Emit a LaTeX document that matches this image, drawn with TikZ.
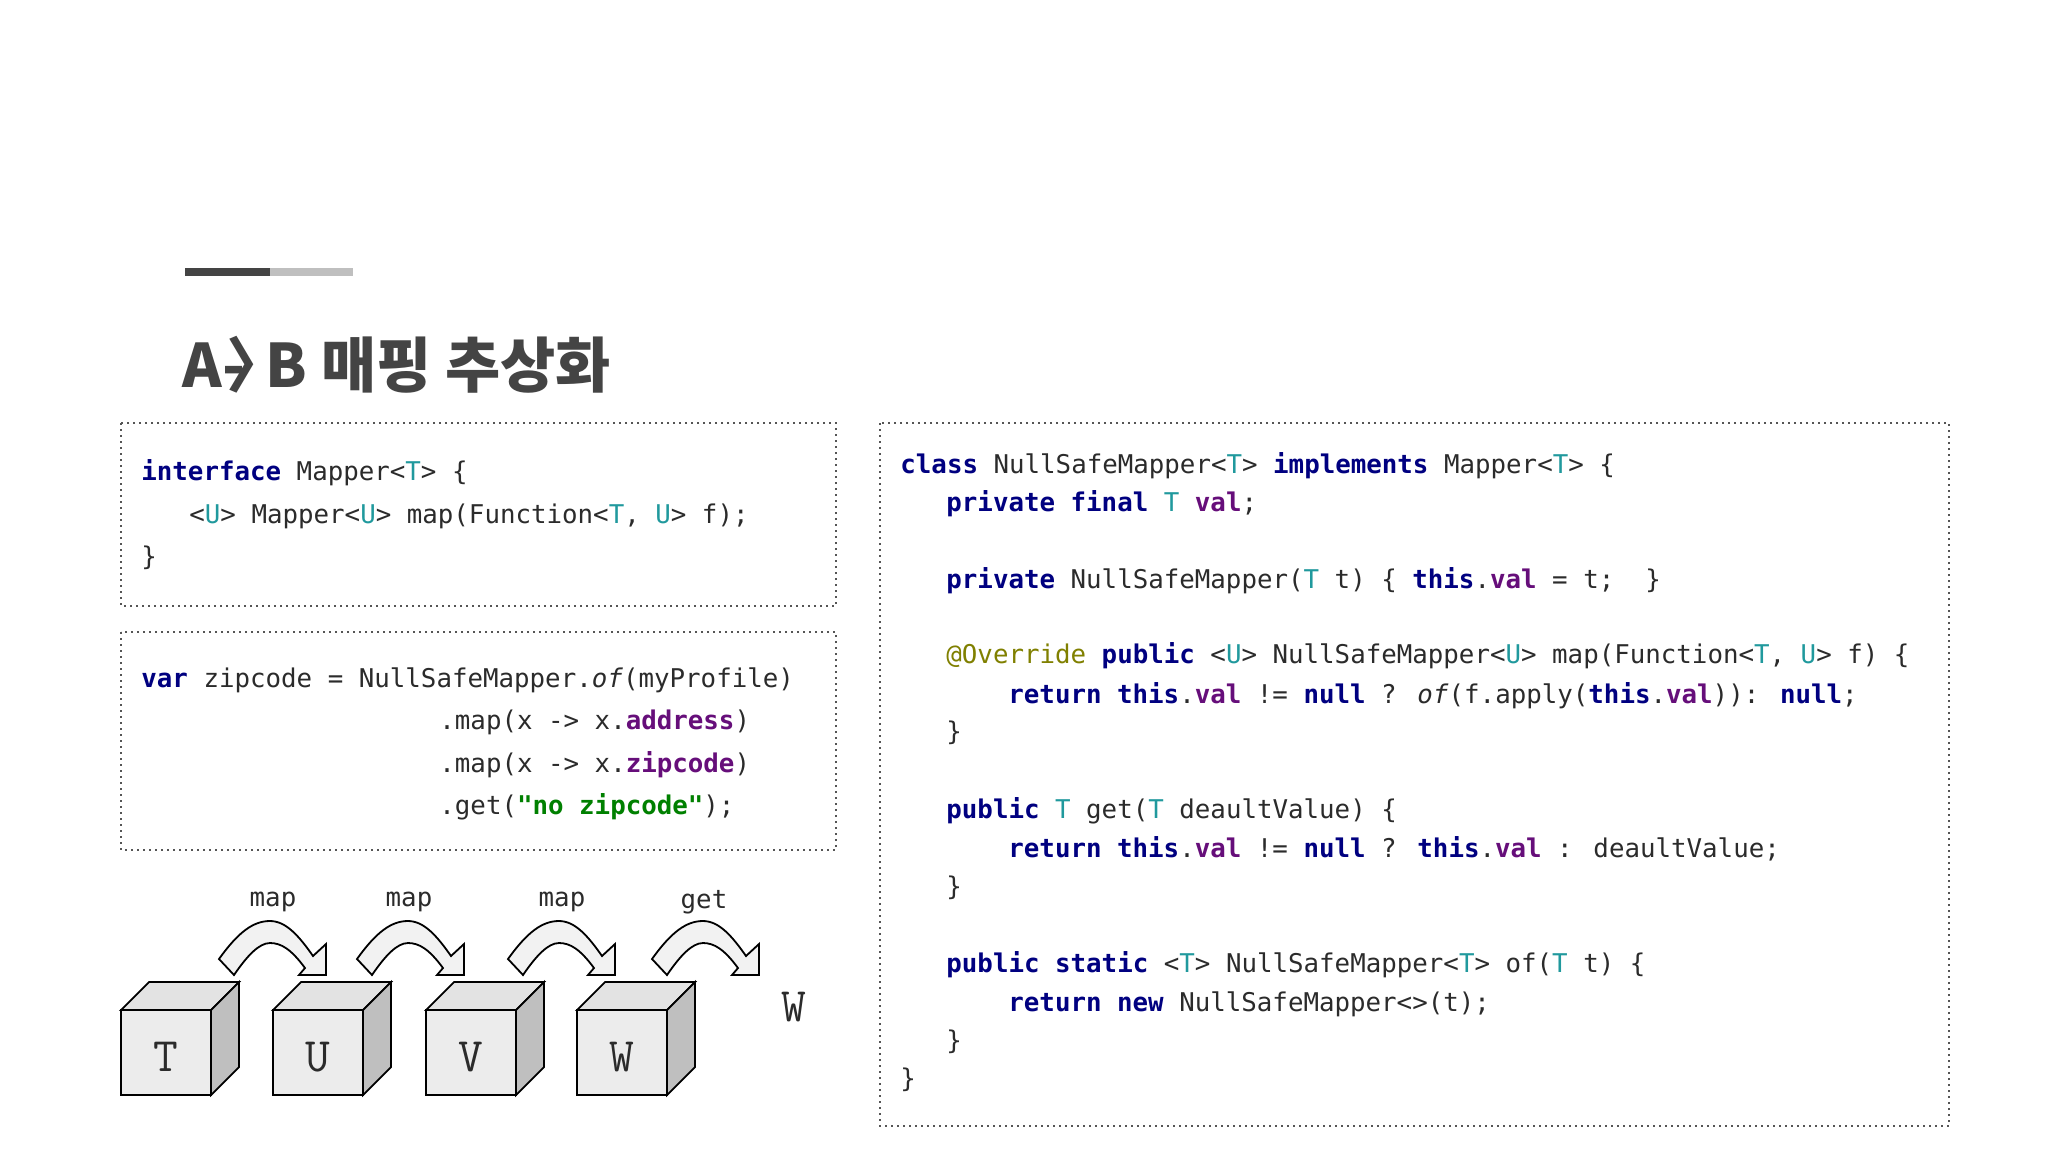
\documentclass[tikz,border=0pt]{standalone}
\usepackage{fontspec}
\usepackage{xcolor}
\newfontfamily\cm{DejaVu Sans Mono}
\newfontfamily\kr{Noto Sans CJK KR}
\definecolor{ink}{HTML}{2B2B2B}
\definecolor{kwc}{HTML}{000080}
\definecolor{tpc}{HTML}{20999D}
\definecolor{fdc}{HTML}{660E7A}
\definecolor{stc}{HTML}{008000}
\definecolor{anc}{HTML}{808000}
\definecolor{titlec}{HTML}{444444}
\newcommand\kw[1]{\textbf{\color{kwc}#1}}
\newcommand\tp[1]{{\color{tpc}#1}}
\newcommand\fd[1]{\textbf{\color{fdc}#1}}
\newcommand\st[1]{\textbf{\color{stc}#1}}
\newcommand\an[1]{{\color{anc}#1}}
\tikzset{
  code/.style={anchor=base west, inner sep=0pt, text=ink, font=\cm\fontsize{12.9}{15}\selectfont},
  dotbox/.style={draw=ink!80, line width=1pt, dotted},
  front/.style={draw=black, line width=0.9pt, fill=gray!15},
  topf/.style={draw=black, line width=0.9pt, fill=gray!22},
  side/.style={draw=black, line width=0.9pt, fill=gray!50},
  barrow/.style={draw=black, line width=0.9pt, fill=gray!10},
  letter/.style={inner sep=0pt, text=ink, font=\ttfamily\fontsize{24}{26}\selectfont},
  lbl/.style={inner sep=0pt, text=ink, font=\cm\fontsize{12.9}{15}\selectfont}
}
\begin{document}
\begin{tikzpicture}[x=0.5pt,y=-0.5pt]
\path[use as bounding box, fill=white] (0,0) rectangle (2048,1152);
% bar
\fill[titlec] (185,268) rectangle (270,276);
\fill[gray!50] (270,268) rectangle (353,276);
% title
\node[anchor=base west, inner sep=0pt, text=titlec, font=\kr\bfseries\fontsize{30}{34}\selectfont] (title) at (182,387) {A-\kern-0.3em〉\kern-0.35emB 매핑 추상화};
% boxes
\draw[dotbox] (121,423) rectangle (836,606);
\draw[dotbox] (121,632) rectangle (836,850);
\draw[dotbox] (880,423) rectangle (1949,1126);
% box1
\node[code] (a1) at (141,480) {\kw{interface} Mapper<\tp{T}> \{};
\node[code] (a2) at (189,523) {<\tp{U}> Mapper<\tp{U}> map(Function<\tp{T}, \tp{U}> f);};
\node[code] (a3) at (141,565) {\}};
% box2
\node[code] (b1) at (141,687) {\kw{var} zipcode = NullSafeMapper.\textit{of}(myProfile)};
\node[code] (b2) at (439,729) {.map(x -> x.\fd{address})};
\node[code] (b3) at (439,772) {.map(x -> x.\fd{zipcode})};
\node[code] (b4) at (439,814) {.get(\st{"no zipcode"});};
% box3
\node[code] (c1) at (900,473) {\kw{class} NullSafeMapper<\tp{T}> \kw{implements} Mapper<\tp{T}> \{};
\node[code] (c2) at (946,511) {\kw{private} \kw{final} \tp{T} \fd{val};};
\node[code] (c3) at (946,588) {\kw{private} NullSafeMapper(\tp{T} t) \{ \kw{this}.\fd{val} = t;~~\}};
\node[code] (c4) at (946,663) {\an{@Override} \kw{public} <\tp{U}> NullSafeMapper<\tp{U}> map(Function<\tp{T}, \tp{U}> f) \{};
\node[code] (c5) at (1008,703) {\kw{return} \kw{this}.\fd{val} != \kw{null} ? \textit{of}(f.apply(\kw{this}.\fd{val})): \kw{null};};
\node[code] (c6) at (946,740) {\}};
\node[code] (c7) at (946,818) {\kw{public} \tp{T} get(\tp{T} deaultValue) \{};
\node[code] (c8) at (1008,857) {\kw{return} \kw{this}.\fd{val} != \kw{null} ? \kw{this}.\fd{val} : deaultValue;};
\node[code] (c9) at (946,895) {\}};
\node[code] (c10) at (946,972) {\kw{public} \kw{static} <\tp{T}> NullSafeMapper<\tp{T}> of(\tp{T} t) \{};
\node[code] (c11) at (1008,1011) {\kw{return} \kw{new} NullSafeMapper<>(t);};
\node[code] (c12) at (946,1049) {\}};
\node[code] (c13) at (900,1087) {\}};
% cubes
\foreach \x/\l/\n in {121/T/cT,273/U/cU,426/V/cV,577/W/cW}{
  \draw[topf] (\x,1010) -- (\x+28,982) -- (\x+118,982) -- (\x+90,1010) -- cycle;
  \draw[side] (\x+90,1010) -- (\x+118,982) -- (\x+118,1067) -- (\x+90,1095) -- cycle;
  \draw[front] (\x,1010) rectangle (\x+90,1095);
  \node[letter] (\n) at (\x+45,1057) {\l};
}
\node[letter] (wout) at (794,1007) {W};
% arrows
\foreach \x in {219,357,508,652}{
  \begin{scope}[shift={(\x,921)}]
  \draw[barrow] (0,38) .. controls (20,10) and (35,0) .. (51,0)
    .. controls (67,0) and (80,15) .. (94,35) -- (107,23) -- (107,54) -- (80,54) -- (86,47)
    .. controls (72,28) and (62,22) .. (51,22) .. controls (40,22) and (28,35) .. (15,54) -- cycle;
  \end{scope}
}
\node[lbl] (l1) at (273,902) {map};
\node[lbl] (l2) at (409,902) {map};
\node[lbl] (l3) at (562,902) {map};
\node[lbl] (l4) at (704,902) {get};
\end{tikzpicture}
\end{document}
